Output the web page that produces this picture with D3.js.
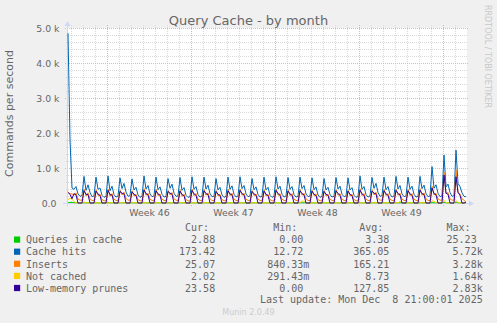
<!DOCTYPE html>
<html>
<head>
<meta charset="utf-8">
<script src="https://cdn.jsdelivr.net/npm/d3@7"></script>
<style>
    html, body { margin: 0; padding: 0; background: #f0f0f0; }
    svg { display: block; }
    text { font-family: "DejaVu Sans", sans-serif; fill: #666666; }
    .mono { font-family: "DejaVu Sans Mono", monospace; }
</style>
</head>
<body>
<script>
// Munin "month" view: 800 hours, one sample every 4 hours starting 18:00 on Nov 5
const HOUR = 3600 * 1000;
const RANGE_START = Date.UTC(2025, 10, 5, 16);
const RANGE_END = Date.UTC(2025, 11, 9, 0);
const FIRST_SAMPLE = Date.UTC(2025, 10, 5, 18);
const SAMPLE_STEP = 4 * HOUR;

const Y_TICKS = [0, 1000, 2000, 3000, 4000, 5000];
const Y_TICK_LABELS = ["0.0 ", "1.0 k", "2.0 k", "3.0 k", "4.0 k", "5.0 k"];

const WEEK_STARTS = [Date.UTC(2025, 10, 9), Date.UTC(2025, 10, 16), Date.UTC(2025, 10, 23), Date.UTC(2025, 10, 30)];
const WEEK_LABELS = ["Week 46", "Week 47", "Week 48", "Week 49"];

const SERIES_NAMES = ["Queries in cache", "Cache hits", "Inserts", "Not cached", "Low-memory prunes"];
const SERIES_COLORS = ["#00cc00", "#0066b3", "#ff8000", "#ffcc00", "#330099"];

// one row per day: 02h, 06h, 10h, 14h, 18h, 22h
const queriesInCache = [
    20, 15,
    18, 9, 7, 3, 2, 2,
    8, 4, 5, 2, 1, 1,
    7, 3, 4, 2, 1, 1,
    9, 4, 5, 2, 1, 1,
    8, 5, 6, 3, 1, 1,
    7, 3, 4, 2, 1, 1,
    10, 4, 5, 2, 1, 1,
    8, 4, 5, 2, 1, 1,
    7, 5, 6, 3, 1, 1,
    8, 3, 4, 2, 1, 1,
    9, 4, 5, 2, 1, 1,
    8, 4, 6, 3, 1, 1,
    7, 3, 4, 2, 1, 1,
    8, 4, 5, 2, 1, 1,
    9, 4, 5, 2, 1, 1,
    7, 4, 5, 2, 1, 1,
    8, 3, 4, 2, 1, 1,
    9, 4, 5, 2, 1, 1,
    8, 4, 5, 2, 1, 1,
    8, 5, 6, 3, 1, 1,
    7, 3, 4, 2, 1, 1,
    7, 3, 4, 2, 1, 1,
    8, 4, 5, 2, 1, 1,
    7, 3, 4, 2, 1, 1,
    10, 4, 5, 2, 1, 1,
    8, 5, 6, 3, 1, 1,
    8, 4, 5, 2, 1, 1,
    9, 4, 6, 2, 1, 1,
    8, 4, 5, 2, 1, 1,
    10, 4, 6, 3, 1, 1,
    14, 5, 6, 3, 1, 1,
    22, 6, 6, 3, 2, 2,
    25, 8, 5, 3, 3, 3
];

const cacheHits = [
    4850, 1800,
    430, 390, 470, 260, 190, 210,
    760, 360, 520, 300, 180, 200,
    740, 390, 430, 220, 160, 190,
    770, 350, 480, 240, 170, 200,
    720, 410, 560, 310, 190, 210,
    690, 370, 450, 230, 160, 190,
    770, 400, 500, 260, 180, 200,
    740, 380, 460, 250, 170, 190,
    700, 420, 540, 280, 190, 200,
    730, 360, 440, 220, 160, 180,
    750, 390, 470, 240, 170, 200,
    740, 400, 510, 270, 180, 190,
    700, 370, 450, 230, 160, 190,
    740, 390, 490, 250, 170, 200,
    750, 410, 500, 260, 180, 200,
    700, 380, 460, 240, 170, 190,
    740, 370, 450, 220, 160, 190,
    750, 400, 480, 250, 170, 200,
    730, 390, 470, 240, 170, 190,
    740, 410, 500, 260, 180, 200,
    720, 380, 460, 230, 160, 190,
    700, 370, 450, 240, 170, 190,
    730, 400, 480, 250, 180, 200,
    720, 370, 440, 220, 160, 190,
    770, 390, 470, 240, 170, 200,
    730, 420, 560, 300, 190, 210,
    740, 380, 470, 250, 170, 200,
    760, 400, 500, 260, 180, 200,
    740, 390, 480, 250, 170, 190,
    760, 410, 510, 270, 180, 200,
    1040, 420, 520, 280, 180, 200,
    1370, 460, 540, 300, 190, 210,
    1510, 560, 470, 290, 190, 175
];

const inserts = [
    320, 260,
    260, 230, 290, 110, 80, 80,
    400, 200, 290, 120, 70, 70,
    380, 210, 250, 100, 60, 70,
    400, 190, 270, 110, 70, 70,
    370, 230, 310, 130, 80, 80,
    350, 200, 250, 100, 60, 70,
    410, 220, 280, 110, 70, 70,
    390, 210, 260, 110, 70, 70,
    360, 230, 300, 120, 80, 70,
    380, 190, 250, 100, 60, 60,
    400, 210, 270, 110, 70, 70,
    390, 220, 290, 120, 70, 70,
    360, 200, 250, 100, 60, 70,
    390, 210, 280, 110, 70, 70,
    400, 220, 280, 110, 70, 70,
    360, 210, 260, 110, 70, 70,
    380, 200, 250, 100, 60, 70,
    400, 220, 270, 110, 70, 70,
    380, 210, 270, 110, 70, 70,
    390, 220, 280, 120, 70, 70,
    370, 210, 260, 100, 60, 70,
    360, 200, 250, 110, 70, 70,
    380, 220, 270, 110, 70, 70,
    370, 200, 250, 100, 60, 70,
    410, 210, 270, 110, 70, 70,
    380, 230, 310, 130, 80, 80,
    390, 210, 270, 110, 70, 70,
    400, 220, 280, 110, 70, 70,
    390, 210, 270, 110, 70, 70,
    410, 220, 290, 120, 70, 70,
    480, 230, 280, 120, 80, 80,
    880, 260, 300, 120, 80, 80,
    950, 300, 260, 120, 80, 25
];

const notCached = [
    90, 140,
    110, 40, 12, 4, 3, 3,
    30, 4, 5, 3, 2, 2,
    6, 3, 4, 2, 2, 2,
    5, 4, 5, 3, 2, 2,
    8, 4, 6, 3, 2, 2,
    25, 3, 4, 2, 2, 2,
    6, 4, 5, 3, 2, 2,
    5, 3, 4, 2, 2, 2,
    7, 4, 5, 3, 2, 2,
    20, 3, 4, 2, 2, 2,
    6, 4, 5, 3, 2, 2,
    7, 4, 6, 3, 2, 2,
    5, 3, 4, 2, 2, 2,
    6, 4, 5, 3, 2, 2,
    6, 4, 5, 3, 2, 2,
    5, 3, 4, 2, 2, 2,
    6, 3, 4, 2, 2, 2,
    6, 4, 5, 3, 2, 2,
    5, 4, 5, 3, 2, 2,
    8, 60, 45, 3, 2, 2,
    6, 3, 4, 2, 2, 2,
    5, 3, 4, 2, 2, 2,
    6, 4, 5, 3, 2, 2,
    5, 3, 4, 2, 2, 2,
    7, 4, 5, 3, 2, 2,
    8, 4, 6, 3, 2, 2,
    6, 3, 5, 3, 2, 2,
    7, 4, 50, 3, 2, 2,
    6, 4, 5, 3, 2, 2,
    8, 4, 6, 3, 2, 2,
    60, 50, 8, 3, 2, 2,
    80, 6, 5, 3, 2, 2,
    70, 8, 5, 3, 2, 2
];

const lowMemoryPrunes = [
    300, 250,
    120, 270, 230, 0, 0, 0,
    350, 250, 240, 0, 0, 0,
    340, 260, 210, 0, 0, 0,
    360, 240, 230, 0, 0, 0,
    330, 280, 260, 0, 0, 0,
    320, 250, 210, 0, 0, 0,
    370, 270, 230, 0, 0, 0,
    350, 260, 220, 0, 0, 0,
    330, 280, 250, 0, 0, 0,
    340, 240, 210, 0, 0, 0,
    360, 260, 220, 0, 0, 0,
    350, 270, 240, 0, 0, 0,
    330, 250, 210, 0, 0, 0,
    350, 260, 230, 0, 0, 0,
    360, 270, 230, 0, 0, 0,
    330, 260, 220, 0, 0, 0,
    340, 250, 210, 0, 0, 0,
    360, 270, 220, 0, 0, 0,
    340, 260, 220, 0, 0, 0,
    350, 270, 230, 0, 0, 0,
    340, 250, 210, 0, 0, 0,
    330, 250, 220, 0, 0, 0,
    350, 270, 220, 0, 0, 0,
    340, 250, 210, 0, 0, 0,
    370, 260, 220, 0, 0, 0,
    340, 280, 260, 0, 0, 0,
    350, 260, 220, 0, 0, 0,
    360, 270, 230, 0, 0, 0,
    350, 260, 220, 0, 0, 0,
    370, 270, 240, 0, 0, 0,
    430, 270, 230, 0, 0, 0,
    800, 280, 250, 0, 0, 0,
    750, 300, 220, 0, 0, 24
];

const SERIES = [queriesInCache, cacheHits, inserts, notCached, lowMemoryPrunes];

const CUR_VALUES = ["2.88", "173.42", "25.07", "2.02", "23.58"];
const MIN_VALUES = ["0.00", "12.72", "840.33m", "291.43m", "0.00"];
const AVG_VALUES = ["3.38", "365.05", "165.21", "8.73", "127.85"];
const MAX_VALUES = ["25.23", "5.72k", "3.28k", "1.64k", "2.83k"];

const LAST_UPDATE = "Last update: Mon Dec  8 21:00:01 2025";

const WIDTH = 497;
const HEIGHT = 323;
const PLOT_LEFT = 67;
const PLOT_RIGHT = 467;
const PLOT_TOP = 28;
const PLOT_BOTTOM = 203;

const AXIS_COLOR = "#cfd6f8";
const GRID_COLOR = "#d9d9d9";
const MGRID_COLOR = "#eeb0b0";

const MONO_CHAR = 6.02;
const LEGEND_TOP = 243.3;
const LEGEND_STEP = 12.1;
// right edge of each legend column, including the unit slot
const COLUMN_ENDS = [221.2, 309.3, 395.3, 482.7];

const crisp = v => Math.round(v) + 0.5;

const xScale = d3.scaleUtc()
    .domain([RANGE_START, RANGE_END])
    .range([PLOT_LEFT, PLOT_RIGHT]);

const yScale = d3.scaleLinear()
    .domain([0, 5000])
    .range([PLOT_BOTTOM, PLOT_TOP]);

const svg = d3.select("body").append("svg")
    .attr("width", WIDTH)
    .attr("height", HEIGHT);

svg.append("rect")
    .attr("width", WIDTH)
    .attr("height", HEIGHT)
    .attr("fill", "#f0f0f0");

// Canvas
svg.append("rect")
    .attr("x", xScale.range()[0])
    .attr("y", yScale.range()[1])
    .attr("width", xScale.range()[1] - xScale.range()[0])
    .attr("height", yScale.range()[0] - yScale.range()[1])
    .attr("fill", "#ffffff");

// Grid: daily minor lines, sunday major lines
const grid = svg.append("g").attr("stroke-dasharray", "1,1").attr("stroke-width", 1);

const days = d3.utcDay.range(RANGE_START, RANGE_END).filter(d => d.getUTCDay() !== 0);
const sundays = d3.utcSunday.range(RANGE_START, RANGE_END);

grid.selectAll("none")
    .data(d3.range(200, 5001, 200).filter(v => v % 1000 !== 0))
    .join("line")
    .attr("x1", PLOT_LEFT - 1).attr("x2", PLOT_RIGHT + 1)
    .attr("y1", v => crisp(yScale(v))).attr("y2", v => crisp(yScale(v)))
    .attr("stroke", GRID_COLOR);

grid.selectAll("none")
    .data(days)
    .join("line")
    .attr("x1", d => crisp(xScale(d))).attr("x2", d => crisp(xScale(d)))
    .attr("y1", PLOT_TOP - 3).attr("y2", PLOT_BOTTOM + 2)
    .attr("stroke", GRID_COLOR);

grid.selectAll("none")
    .data(Y_TICKS.filter(v => v > 0))
    .join("line")
    .attr("x1", PLOT_LEFT - 2).attr("x2", PLOT_RIGHT + 2)
    .attr("y1", v => crisp(yScale(v))).attr("y2", v => crisp(yScale(v)))
    .attr("stroke", MGRID_COLOR);

grid.selectAll("none")
    .data(sundays)
    .join("line")
    .attr("x1", d => crisp(xScale(d))).attr("x2", d => crisp(xScale(d)))
    .attr("y1", PLOT_TOP - 3).attr("y2", PLOT_BOTTOM + 3)
    .attr("stroke", MGRID_COLOR);

// Axes lines and arrows
svg.append("line")
    .attr("x1", PLOT_LEFT - 4).attr("x2", PLOT_RIGHT + 3)
    .attr("y1", crisp(yScale(0))).attr("y2", crisp(yScale(0)))
    .attr("stroke", AXIS_COLOR);
svg.append("path")
    .attr("d", `M${PLOT_RIGHT + 2},${crisp(yScale(0)) - 3}L${PLOT_RIGHT + 7},${crisp(yScale(0))}L${PLOT_RIGHT + 2},${crisp(yScale(0)) + 3}Z`)
    .attr("fill", AXIS_COLOR);
svg.append("line")
    .attr("x1", crisp(PLOT_LEFT)).attr("x2", crisp(PLOT_LEFT))
    .attr("y1", PLOT_BOTTOM + 4).attr("y2", PLOT_TOP - 3)
    .attr("stroke", AXIS_COLOR);
svg.append("path")
    .attr("d", `M${crisp(PLOT_LEFT) - 3},${PLOT_TOP - 2}L${crisp(PLOT_LEFT)},${PLOT_TOP - 7}L${crisp(PLOT_LEFT) + 3},${PLOT_TOP - 2}Z`)
    .attr("fill", AXIS_COLOR);

// Y axis labels
const yAxis = svg.append("g")
    .attr("transform", `translate(${PLOT_LEFT}, 0)`)
    .call(d3.axisLeft(yScale)
        .tickValues(Y_TICKS)
        .tickFormat((_v, idx) => Y_TICK_LABELS[idx])
        .tickSize(0)
        .tickPadding(7.5));
yAxis.select(".domain").remove();
yAxis.selectAll("text")
    .attr("xml:space", "preserve")
    .style("font-family", "DejaVu Sans")
    .style("font-size", "9.33px")
    .attr("fill", "#666666");

// X axis week labels, centered on each week
const xAxis = svg.append("g")
    .attr("transform", `translate(0, ${PLOT_BOTTOM})`)
    .call(d3.axisBottom(xScale)
        .tickValues(WEEK_STARTS.map(d => d + 3.5 * 24 * HOUR))
        .tickFormat((_v, idx) => WEEK_LABELS[idx])
        .tickSize(0)
        .tickPadding(6.4));
xAxis.select(".domain").remove();
xAxis.selectAll("text")
    .style("font-family", "DejaVu Sans")
    .style("font-size", "9.33px")
    .attr("fill", "#666666");

// Series lines
const sampleTime = idx => FIRST_SAMPLE + idx * SAMPLE_STEP;
const line = d3.line()
    .x((_v, idx) => xScale(sampleTime(idx)))
    .y(v => yScale(v));

svg.append("g")
    .selectAll("path")
    .data(SERIES)
    .join("path")
    .attr("d", line)
    .attr("fill", "none")
    .attr("stroke", (_s, idx) => SERIES_COLORS[idx])
    .attr("stroke-width", 1)
    .attr("stroke-linejoin", "round");

// Titles
svg.append("text")
    .attr("x", 248.5).attr("y", 24.5)
    .attr("text-anchor", "middle")
    .style("font-size", "13px")
    .text("Query Cache - by month");

svg.append("text")
    .attr("transform", "translate(13.4, 113.5) rotate(-90)")
    .attr("text-anchor", "middle")
    .style("font-size", "11px")
    .text("Commands per second");

svg.append("text")
    .attr("transform", "translate(484.5, 5) rotate(90)")
    .style("font-size", "8px")
    .style("fill", "#c8c8c8")
    .text("RRDTOOL / TOBI OETIKER");

// Legend
const legend = svg.append("g").attr("class", "mono").style("font-size", "10px");

legend.selectAll("none")
    .data(["Cur:", "Min:", "Avg:", "Max:"])
    .join("text")
    .attr("class", "mono")
    .attr("x", (_h, idx) => COLUMN_ENDS[idx] - 2 * MONO_CHAR)
    .attr("y", LEGEND_TOP - LEGEND_STEP)
    .attr("text-anchor", "end")
    .text(h => h);

legend.selectAll("none")
    .data(SERIES_NAMES)
    .join("rect")
    .attr("x", 14)
    .attr("y", (_n, idx) => LEGEND_TOP + idx * LEGEND_STEP - 6.8)
    .attr("width", 6.2)
    .attr("height", 6.2)
    .attr("fill", (_n, idx) => SERIES_COLORS[idx]);

legend.selectAll("none")
    .data(SERIES_NAMES)
    .join("text")
    .attr("class", "mono")
    .attr("x", 26)
    .attr("y", (_n, idx) => LEGEND_TOP + idx * LEGEND_STEP)
    .text(n => n);

[CUR_VALUES, MIN_VALUES, AVG_VALUES, MAX_VALUES].forEach((column, col) => {
    legend.selectAll("none")
        .data(column)
        .join("text")
        .attr("class", "mono")
        .attr("x", v => COLUMN_ENDS[col] - (/[a-z]$/.test(v) ? 0 : MONO_CHAR))
        .attr("y", (_v, idx) => LEGEND_TOP + idx * LEGEND_STEP)
        .attr("text-anchor", "end")
        .text(v => v);
});

legend.append("text")
    .attr("class", "mono")
    .attr("xml:space", "preserve")
    .attr("x", COLUMN_ENDS[3])
    .attr("y", 303.4)
    .attr("text-anchor", "end")
    .text(LAST_UPDATE);

svg.append("text")
    .attr("x", 248.5).attr("y", 314.6)
    .attr("text-anchor", "middle")
    .style("font-size", "8px")
    .style("fill", "#cccccc")
    .text("Munin 2.0.49");
</script>
</body>
</html>
